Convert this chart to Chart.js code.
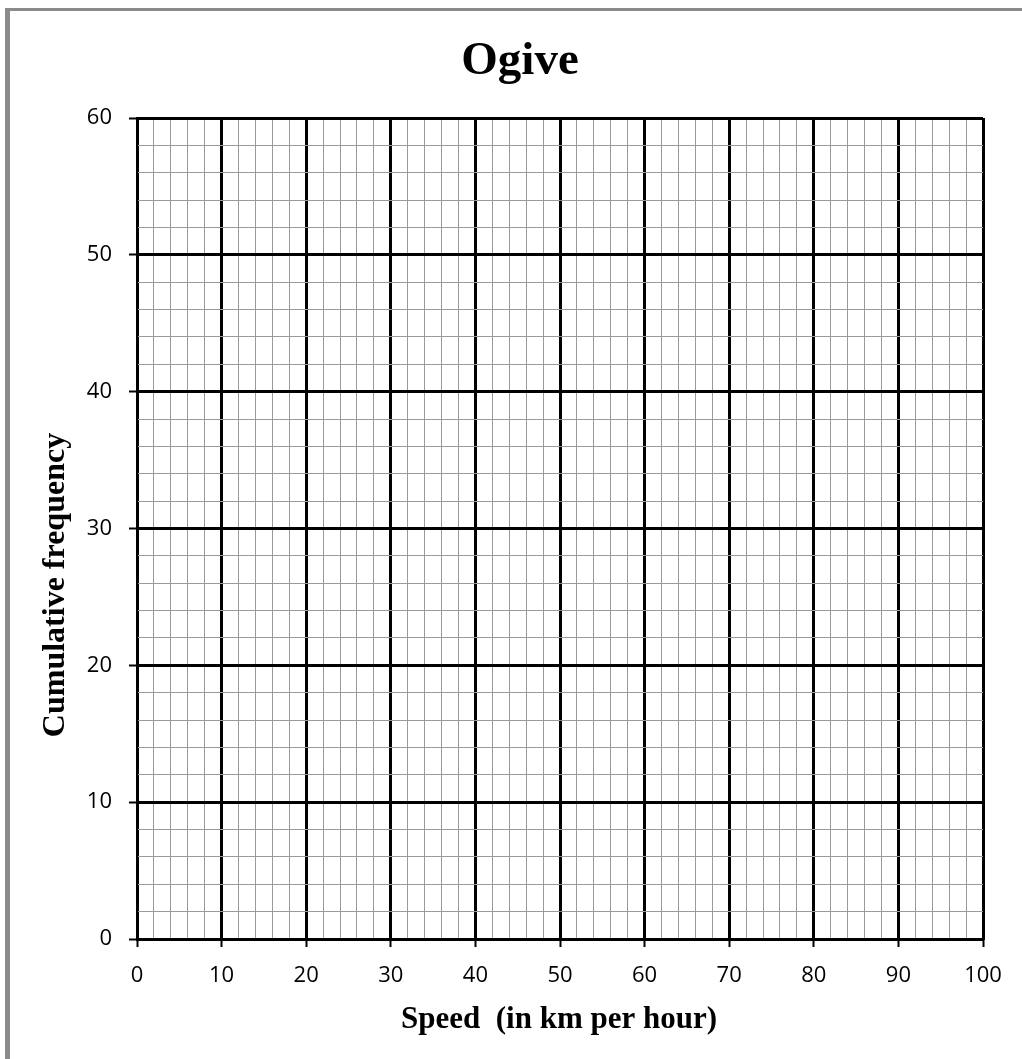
<!DOCTYPE html>
<html>
<head>
<meta charset="utf-8">
<script src="https://cdn.jsdelivr.net/npm/chart.js@4.4.1/dist/chart.umd.min.js"></script>
<style>
  html, body { margin: 0; padding: 0; background: #fff; }
  #wrap { width: 1022px; height: 1059px; position: relative; }
</style>
</head>
<body>
<div id="wrap"><canvas id="ogive" width="1022" height="1059"></canvas></div>
<script>
// axis ranges and labelled ticks
const xMajorTicks = [0, 10, 20, 30, 40, 50, 60, 70, 80, 90, 100];
const yMajorTicks = [0, 10, 20, 30, 40, 50, 60];
const minorStep = 2;

// no points plotted yet, it's a blank ogive sheet
const cumulativeData = [];

const chartTitle = "Ogive";
const xTitle = "Speed  (in km per hour)";
const yTitle = "Cumulative frequency";

const isMajor = (list, v) => list.includes(Math.round(v));

function gridStyle(list) {
  return {
    color: (ctx) => isMajor(list, ctx.tick.value) ? "#000" : "#9a9a9a",
    lineWidth: (ctx) => isMajor(list, ctx.tick.value) ? 3 : 1,
    tickColor: (ctx) => isMajor(list, ctx.tick.value) ? "#000" : "rgba(0,0,0,0)",
    tickWidth: 2,
    tickLength: 8,
    drawTicks: true,
  };
}

const textPlugin = {
  id: "sheetText",
  beforeDraw(chart) {
    const c = chart.ctx;
    c.save();
    // grey frame on top and left
    c.fillStyle = "#8a8a8a";
    c.fillRect(5, 8, 1017, 3);
    c.fillRect(5, 8, 5, 1051);
    c.restore();
  },
  afterDraw(chart) {
    const c = chart.ctx;
    c.save();
    c.fillStyle = "#000";
    c.textAlign = "center";
    c.textBaseline = "alphabetic";
    c.font = "bold 47px 'Liberation Serif', 'Times New Roman', serif";
    c.fillText(chartTitle, 520, 74);

    c.font = "bold 31px 'Liberation Serif', 'Times New Roman', serif";
    c.fillText(xTitle, 559, 1028);

    c.font = "bold 32px 'Liberation Serif', 'Times New Roman', serif";
    c.translate(64, 585);
    c.rotate(-Math.PI / 2);
    c.fillText(yTitle, 0, 0);
    c.restore();
  }
};

const ctx = document.getElementById("ogive").getContext("2d");
new Chart(ctx, {
  type: "scatter",
  data: {
    datasets: [{
      label: "Cumulative frequency",
      data: cumulativeData,
      borderColor: "#000",
      backgroundColor: "#000",
    }]
  },
  options: {
    responsive: false,
    animation: false,
    layout: { padding: { left: 0, top: 118, right: 39, bottom: 0 } },
    plugins: {
      legend: { display: false },
      tooltip: { enabled: false },
    },
    scales: {
      x: {
        type: "linear",
        min: xMajorTicks[0],
        max: xMajorTicks[xMajorTicks.length - 1],
        grid: gridStyle(xMajorTicks),
        border: { display: true, color: "#000", width: 2 },
        ticks: {
          stepSize: minorStep,
          autoSkip: false,
          maxRotation: 0,
          padding: 16,
          color: "#000",
          font: { family: "'Open Sans', sans-serif", size: 22 },
          callback: (v) => isMajor(xMajorTicks, v) ? String(Math.round(v)) : "",
        },
        afterFit: (scale) => { scale.height = 120; },
      },
      y: {
        type: "linear",
        min: yMajorTicks[0],
        max: yMajorTicks[yMajorTicks.length - 1],
        grid: gridStyle(yMajorTicks),
        border: { display: true, color: "#000", width: 2 },
        ticks: {
          stepSize: minorStep,
          autoSkip: false,
          padding: 17,
          color: "#000",
          font: { family: "'Open Sans', sans-serif", size: 22 },
          callback: (v) => isMajor(yMajorTicks, v) ? String(Math.round(v)) : "",
        },
        afterFit: (scale) => { scale.width = 137; },
      }
    }
  },
  plugins: [textPlugin]
});
</script>
</body>
</html>
